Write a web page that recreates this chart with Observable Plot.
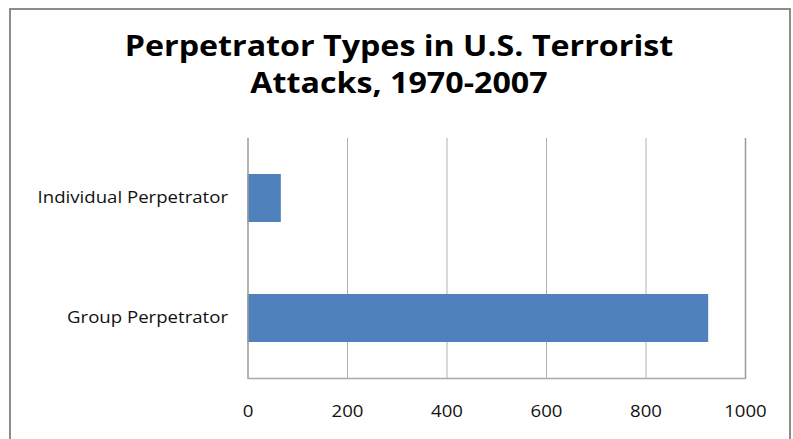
<!DOCTYPE html>
<html>
<head>
<meta charset="utf-8">
<script src="https://cdn.jsdelivr.net/npm/d3@7"></script>
<script src="https://cdn.jsdelivr.net/npm/@observablehq/plot@0.6"></script>
<style>
  html, body { margin: 0; padding: 0; background: #fff; }
  #wrap { position: relative; width: 793px; height: 439px; overflow: hidden; background: #fff; }
  #frame { position: absolute; left: 9px; top: 8px; width: 778px; height: 460px;
           border-left: 2px solid #8c8c8c; border-top: 2px solid #8c8c8c; border-right: 2px solid #8c8c8c; }
  #title { position: absolute; left: 0; top: 27px; width: 798px; text-align: center;
           font-family: "Open Sans", Lato, sans-serif; font-weight: bold; font-size: 28px;
           line-height: 37px; color: #000; transform: scaleX(1.15); transform-origin: 399px 0; }
  #chart { position: absolute; left: 0; top: 110px; }
</style>
</head>
<body>
<div id="wrap">
  <div id="frame"></div>
  <div id="title">Perpetrator Types in U.S. Terrorist<br>Attacks, 1970-2007</div>
  <div id="chart"></div>
</div>
<script>
const categories = ["Individual Perpetrator", "Group Perpetrator"];
const values = [67, 926];
const xTicks = [0, 200, 400, 600, 800, 1000];

const data = categories.map((c, i) => ({category: c, value: values[i]}));

const plot = Plot.plot({
  width: 793,
  height: 329,
  marginLeft: 247.5,
  marginRight: 48,
  marginTop: 28,
  marginBottom: 61,
  style: {fontFamily: "'Open Sans', Lato, sans-serif", fontSize: "15.5px", color: "#111", background: "transparent"},
  x: {domain: [0, 1000], ticks: xTicks, tickSize: 0, tickPadding: 27, label: null},
  y: {domain: categories, paddingInner: 0.6, paddingOuter: 0.3, tickSize: 0, tickPadding: 20, label: null},
  marks: [
    Plot.ruleX(xTicks.slice(1, -1), {stroke: "#b0b0b0", strokeWidth: 1, strokeOpacity: 1}),
    Plot.barX(data, {x: "value", y: "category", fill: "#4f81bd"}),
    Plot.ruleX([0, 1000], {stroke: "#9a9a9a", strokeWidth: 1.5, strokeOpacity: 1}),
    Plot.axisX({ticks: xTicks, tickFormat: d => String(d), tickSize: 0, tickPadding: 27, fontSize: 15.5}),
    Plot.axisY({tickSize: 0, tickPadding: 20, fontSize: 15.5}),
    Plot.frame({anchor: "bottom", stroke: "#a8a8a8", strokeWidth: 1.5})
  ]
});
document.getElementById("chart").appendChild(plot);
// stretch tick labels horizontally to match the wide face of the original
plot.querySelectorAll("g[aria-label='x-axis tick label'] text, g[aria-label='y-axis tick label'] text").forEach(t => {
  const w = t.getComputedTextLength();
  t.setAttribute("textLength", (w * 1.2).toFixed(1));
  t.setAttribute("lengthAdjust", "spacingAndGlyphs");
});
</script>
</body>
</html>
